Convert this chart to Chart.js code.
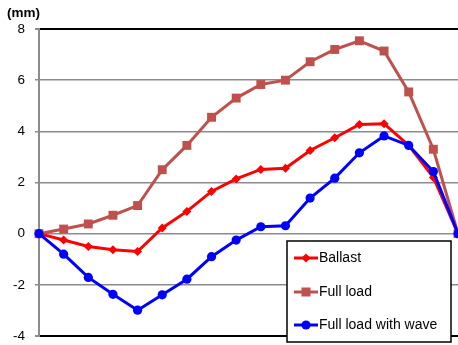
<!DOCTYPE html>
<html>
<head>
<meta charset="utf-8">
<script src="https://cdn.jsdelivr.net/npm/chart.js@4"></script>
<style>
html,body{margin:0;padding:0;background:#fff;}
#wrap{position:relative;width:458px;height:345px;}
</style>
</head>
<body>
<div id="wrap"><canvas id="c" width="458" height="345"></canvas></div>
<script>
const positions = [0,1,2,3,4,5,6,7,8,9,10,11,12,13,14,15,16,17];
const ballast = [0, -0.25, -0.5, -0.63, -0.7, 0.22, 0.87, 1.65, 2.14, 2.51, 2.56, 3.25, 3.75, 4.27, 4.3, 3.45, 2.2, 0];
const fullLoad = [0, 0.18, 0.38, 0.72, 1.1, 2.5, 3.45, 4.55, 5.3, 5.83, 6.0, 6.72, 7.2, 7.54, 7.14, 5.54, 3.3, 0];
const fullLoadWave = [0, -0.8, -1.71, -2.37, -2.99, -2.39, -1.78, -0.9, -0.25, 0.27, 0.31, 1.39, 2.17, 3.16, 3.82, 3.45, 2.43, 0];
const seriesNames = ["Ballast", "Full load", "Full load with wave"];
const yTicks = [-4, -2, 0, 2, 4, 6, 8];
const unitLabel = "(mm)";

const toXY = arr => arr.map((v, i) => ({x: positions[i], y: v}));

const styles = [
  {color: '#FF0000', pointStyle: 'rectRot', radius: 4.5},
  {color: '#C0504D', pointStyle: 'rect', radius: 6.3},
  {color: '#0000FF', pointStyle: 'circle', radius: 4.6}
];
const seriesData = [ballast, fullLoad, fullLoadWave];

const datasets = seriesData.map((d, i) => ({
  label: seriesNames[i],
  data: toXY(d),
  borderColor: styles[i].color,
  backgroundColor: styles[i].color,
  pointBackgroundColor: styles[i].color,
  pointBorderColor: styles[i].color,
  pointBorderWidth: 0,
  pointStyle: styles[i].pointStyle,
  pointRadius: styles[i].radius,
  borderWidth: 3,
  tension: 0,
  clip: false,
  order: 2 - i
}));

const extras = {
  id: 'extras',
  afterDraw(chart) {
    const ctx = chart.ctx;
    ctx.save();
    ctx.fillStyle = '#000';
    ctx.font = 'bold 13.5px "Liberation Sans", Arial, sans-serif';
    ctx.textBaseline = 'middle';
    ctx.textAlign = 'left';
    ctx.fillText(unitLabel, 7, 13);
    const bx = 287, by = 241, bw = 164, bh = 101;
    ctx.fillStyle = '#fff';
    ctx.fillRect(bx, by, bw, bh);
    ctx.strokeStyle = '#000';
    ctx.lineWidth = 1.5;
    ctx.strokeRect(bx, by, bw, bh);
    const rows = [258, 292, 325];
    seriesNames.forEach((name, i) => {
      const y = rows[i];
      const s = styles[i];
      ctx.strokeStyle = s.color;
      ctx.lineWidth = 3;
      ctx.beginPath();
      ctx.moveTo(294, y);
      ctx.lineTo(318, y);
      ctx.stroke();
      ctx.fillStyle = s.color;
      ctx.beginPath();
      if (s.pointStyle === 'rectRot') {
        ctx.moveTo(306, y - 4.5); ctx.lineTo(310.5, y); ctx.lineTo(306, y + 4.5); ctx.lineTo(301.5, y); ctx.closePath();
      } else if (s.pointStyle === 'rect') {
        ctx.rect(301.5, y - 4.5, 9, 9);
      } else {
        ctx.arc(306, y, 4.6, 0, Math.PI * 2);
      }
      ctx.fill();
      ctx.fillStyle = '#000';
      ctx.font = '14px "Liberation Sans", Arial, sans-serif';
      ctx.textAlign = 'left';
      ctx.textBaseline = 'middle';
      ctx.fillText(name, 319, y);
    });
    ctx.restore();
  }
};

new Chart(document.getElementById('c'), {
  type: 'line',
  data: {datasets},
  options: {
    responsive: false,
    animation: false,
    layout: {autoPadding: false, padding: {top: 29, right: 0, bottom: 9, left: 0}},
    plugins: {legend: {display: false}, tooltip: {enabled: false}},
    scales: {
      x: {
        type: 'linear', min: 0, max: 17, display: false
      },
      y: {
        min: -4, max: 8,
        afterBuildTicks(axis) { axis.ticks = yTicks.map(v => ({value: v})); },
        afterFit(axis) { axis.width = 39; axis.paddingTop = 0; axis.paddingBottom = 0; },
        ticks: {
          color: '#000',
          font: {size: 13.5, family: '"Liberation Sans", Arial, sans-serif'},
          padding: 10
        },
        grid: {
          color: ctx => (ctx.tick && (ctx.tick.value === 8 || ctx.tick.value === -4)) ? '#000' : '#8c8c8c',
          lineWidth: ctx => (ctx.tick && (ctx.tick.value === 8 || ctx.tick.value === -4)) ? 2 : 1.5,
          tickColor: '#8c8c8c',
          tickLength: 4,
          drawTicks: true
        },
        border: {color: '#8c8c8c', width: 2}
      }
    }
  },
  plugins: [extras]
});
</script>
</body>
</html>
